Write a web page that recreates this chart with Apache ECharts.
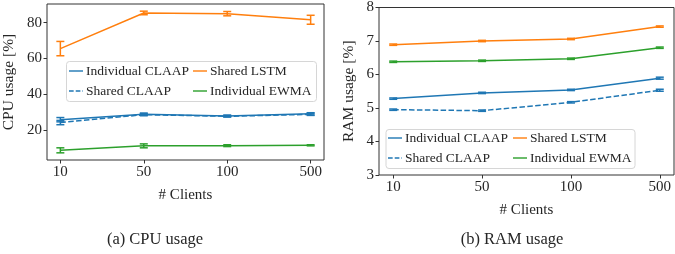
<!DOCTYPE html>
<html>
<head>
<meta charset="utf-8">
<script src="https://cdn.jsdelivr.net/npm/echarts@6/dist/echarts.min.js"></script>
<style>
html,body{margin:0;padding:0;background:#fff;}
#chart{width:675px;height:254px;}
</style>
</head>
<body>
<div id="chart"></div>
<script>
// ---- data ----
const clients = ['10', '50', '100', '500'];
const seriesNames = ['Individual CLAAP', 'Shared LSTM', 'Shared CLAAP', 'Individual EWMA'];

// CPU usage [%] (mean, error)
const cpuIndividualCLAAP = [25.8, 28.9, 27.9, 29.1];
const cpuIndividualCLAAPErr = [1.2, 0.6, 0.5, 0.6];
const cpuSharedCLAAP = [24.2, 28.6, 27.7, 28.8];
const cpuSharedCLAAPErr = [1.2, 0.6, 0.4, 0.6];
const cpuSharedLSTM = [65.5, 85.4, 85.0, 81.6];
const cpuSharedLSTMErr = [4.0, 1.0, 1.2, 2.5];
const cpuIndividualEWMA = [8.7, 11.2, 11.3, 11.5];
const cpuIndividualEWMAErr = [1.4, 1.1, 0.5, 0.3];

// RAM usage [%] (mean, error)
const ramIndividualCLAAP = [5.28, 5.45, 5.54, 5.89];
const ramIndividualCLAAPErr = [0.02, 0.02, 0.02, 0.03];
const ramSharedCLAAP = [4.95, 4.92, 5.17, 5.53];
const ramSharedCLAAPErr = [0.02, 0.02, 0.02, 0.03];
const ramSharedLSTM = [6.89, 7.0, 7.06, 7.43];
const ramSharedLSTMErr = [0.02, 0.02, 0.02, 0.02];
const ramIndividualEWMA = [6.38, 6.41, 6.47, 6.8];
const ramIndividualEWMAErr = [0.02, 0.02, 0.02, 0.02];

const cpuTicks = [20, 40, 60, 80];
const ramTicks = [3, 4, 5, 6, 7, 8];

// ---- styling ----
const FONT = 'Liberation Serif';
const C_BLUE = '#1f77b4', C_ORANGE = '#ff7f0e', C_GREEN = '#2ca02c';
const TXT = '#262626';
const SOLID_ICON = 'path://M0,0H15V1.5H0Z';
const DASH_ICON = 'path://M0,0H5V1.5H0Z M7.2,0H12.2V1.5H7.2Z M14.4,0H15V1.5H14.4Z';

function pts(vals){ return vals.map((v,i)=>[i, v]); }
function errPts(vals, errs){ return vals.map((v,i)=>[i, v, errs[i]]); }

function lineSeries(name, vals, color, idx, dashed){
  return {
    type:'line', name, data: pts(vals), xAxisIndex: idx, yAxisIndex: idx,
    symbol:'none', showSymbol:false, smooth:false, z:3,
    lineStyle:{color, width:1.5, type: dashed ? [5.5,2.4] : 'solid'},
    itemStyle:{color}, animation:false
  };
}
function errSeries(name, vals, errs, color, idx){
  return {
    type:'custom', name, data: errPts(vals, errs), xAxisIndex: idx, yAxisIndex: idx, z:3,
    animation:false, silent:true,
    renderItem(params, api){
      const x = api.value(0), y = api.value(1), e = api.value(2);
      const lo = api.coord([x, y - e]), hi = api.coord([x, y + e]);
      const hw = 4;
      const st = {stroke: color, lineWidth: 1.5};
      return {type:'group', children:[
        {type:'line', shape:{x1:lo[0], y1:lo[1], x2:hi[0], y2:hi[1]}, style:st},
        {type:'line', shape:{x1:lo[0]-hw, y1:lo[1], x2:lo[0]+hw, y2:lo[1]}, style:st},
        {type:'line', shape:{x1:hi[0]-hw, y1:hi[1], x2:hi[0]+hw, y2:hi[1]}, style:st}
      ]};
    }
  };
}

function xAxis(idx, name){
  return {
    type:'value', gridIndex: idx, min:-0.16, max:3.16,
    name, nameLocation:'middle', nameGap:28,
    nameTextStyle:{fontFamily:FONT, fontSize:15, color:TXT},
    axisLine:{show:false, onZero:false}, splitLine:{show:false},
    axisTick:{show:true, length:3.5, customValues:[0,1,2,3], lineStyle:{color:'#333'}},
    axisLabel:{customValues:[0,1,2,3], formatter:(v)=>clients[Math.round(v)], margin:5,
      fontFamily:FONT, fontSize:15, color:TXT}
  };
}
function yAxis(idx, name, min, max, ticks, gap){
  return {
    type:'value', gridIndex: idx, min, max,
    name, nameLocation:'middle', nameGap:gap, nameRotate:90,
    nameTextStyle:{fontFamily:FONT, fontSize:15.5, color:TXT},
    axisLine:{show:false, onZero:false}, splitLine:{show:false},
    axisTick:{show:true, length:3.5, customValues:ticks, lineStyle:{color:'#333'}},
    axisLabel:{customValues:ticks, margin:5, fontFamily:FONT, fontSize:15, color:TXT}
  };
}

function legendItem(name, left, rowY, color, dashed){
  return {
    data:[{name, icon: dashed ? DASH_ICON : SOLID_ICON, itemStyle:{color}}],
    left, top: rowY - 8, orient:'horizontal', padding:0,
    itemWidth:14, itemHeight:1.5, selectedMode:false, z:20,
    textStyle:{fontFamily:FONT, fontSize:13.5, color:TXT, lineHeight:16, padding:[0,0,0,-2]}
  };
}

const option = {
  animation:false,
  backgroundColor:'#fff',
  grid:[
    {left:44, top:4, width:280, height:156, show:true, borderColor:'#333', borderWidth:1, backgroundColor:'transparent'},
    {left:379, top:7.3, width:295, height:167.7, show:true, borderColor:'#333', borderWidth:1, backgroundColor:'transparent'}
  ],
  xAxis:[xAxis(0,'# Clients'), xAxis(1,'# Clients')],
  yAxis:[yAxis(0,'CPU usage [%]', 3.3, 90.4, cpuTicks, 30), yAxis(1,'RAM usage [%]', 3, 8, ramTicks, 22)],
  legend:[
    legendItem('Individual CLAAP', 69, 71, C_BLUE, false), legendItem('Shared LSTM', 193, 71, C_ORANGE, false),
    legendItem('Shared CLAAP', 69, 91, C_BLUE, true), legendItem('Individual EWMA', 193, 91, C_GREEN, false),
    legendItem('Individual CLAAP', 388, 138, C_BLUE, false), legendItem('Shared LSTM', 513, 138, C_ORANGE, false),
    legendItem('Shared CLAAP', 388, 158, C_BLUE, true), legendItem('Individual EWMA', 513, 158, C_GREEN, false)
  ],
  graphic:[
    {type:'rect', z:10, shape:{x:66.5, y:61.5, width:250, height:40, r:3},
      style:{fill:'rgba(255,255,255,0.8)', stroke:'#d6d6d6', lineWidth:1}},
    {type:'rect', z:10, shape:{x:386, y:129.5, width:249, height:39, r:3},
      style:{fill:'rgba(255,255,255,0.8)', stroke:'#d6d6d6', lineWidth:1}},
    {type:'text', z:10, x:155, y:240, style:{text:'(a) CPU usage', fontFamily:FONT, fontSize:16.5, fill:TXT, textAlign:'center', textVerticalAlign:'middle'}},
    {type:'text', z:10, x:512, y:240, style:{text:'(b) RAM usage', fontFamily:FONT, fontSize:16.5, fill:TXT, textAlign:'center', textVerticalAlign:'middle'}}
  ],
  series:[
    lineSeries('Individual CLAAP', cpuIndividualCLAAP, C_BLUE, 0, false),
    errSeries('Individual CLAAP', cpuIndividualCLAAP, cpuIndividualCLAAPErr, C_BLUE, 0),
    lineSeries('Shared CLAAP', cpuSharedCLAAP, C_BLUE, 0, true),
    errSeries('Shared CLAAP', cpuSharedCLAAP, cpuSharedCLAAPErr, C_BLUE, 0),
    lineSeries('Shared LSTM', cpuSharedLSTM, C_ORANGE, 0, false),
    errSeries('Shared LSTM', cpuSharedLSTM, cpuSharedLSTMErr, C_ORANGE, 0),
    lineSeries('Individual EWMA', cpuIndividualEWMA, C_GREEN, 0, false),
    errSeries('Individual EWMA', cpuIndividualEWMA, cpuIndividualEWMAErr, C_GREEN, 0),

    lineSeries('Individual CLAAP', ramIndividualCLAAP, C_BLUE, 1, false),
    errSeries('Individual CLAAP', ramIndividualCLAAP, ramIndividualCLAAPErr, C_BLUE, 1),
    lineSeries('Shared CLAAP', ramSharedCLAAP, C_BLUE, 1, true),
    errSeries('Shared CLAAP', ramSharedCLAAP, ramSharedCLAAPErr, C_BLUE, 1),
    lineSeries('Shared LSTM', ramSharedLSTM, C_ORANGE, 1, false),
    errSeries('Shared LSTM', ramSharedLSTM, ramSharedLSTMErr, C_ORANGE, 1),
    lineSeries('Individual EWMA', ramIndividualEWMA, C_GREEN, 1, false),
    errSeries('Individual EWMA', ramIndividualEWMA, ramIndividualEWMAErr, C_GREEN, 1)
  ]
};

const chart = echarts.init(document.getElementById('chart'), null, {renderer:'canvas'});
chart.setOption(option);
</script>
</body>
</html>
